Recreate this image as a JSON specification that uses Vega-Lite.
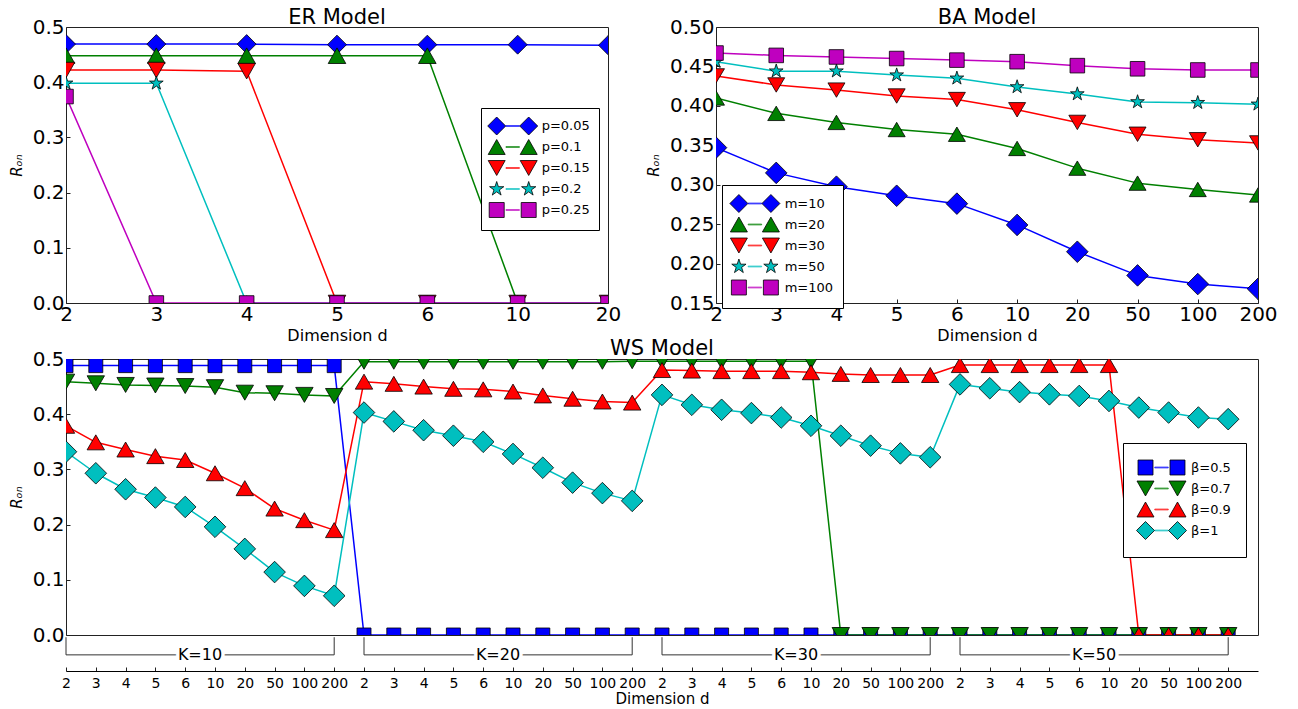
{
"$schema": "https://vega.github.io/schema/vega-lite/v6.json",
"padding": {"left": 8, "top": 6, "right": 5, "bottom": 3},
"datasets": {
"er": [
{"p":"p=0.05","d":2,"r":0.469},{"p":"p=0.05","d":3,"r":0.469},{"p":"p=0.05","d":4,"r":0.469},{"p":"p=0.05","d":5,"r":0.468},{"p":"p=0.05","d":6,"r":0.468},{"p":"p=0.05","d":10,"r":0.468},{"p":"p=0.05","d":20,"r":0.467},
{"p":"p=0.1","d":2,"r":0.448},{"p":"p=0.1","d":3,"r":0.448},{"p":"p=0.1","d":4,"r":0.448},{"p":"p=0.1","d":5,"r":0.448},{"p":"p=0.1","d":6,"r":0.448},{"p":"p=0.1","d":10,"r":0},{"p":"p=0.1","d":20,"r":0},
{"p":"p=0.15","d":2,"r":0.422},{"p":"p=0.15","d":3,"r":0.422},{"p":"p=0.15","d":4,"r":0.42},{"p":"p=0.15","d":5,"r":0},{"p":"p=0.15","d":6,"r":0},{"p":"p=0.15","d":10,"r":0},{"p":"p=0.15","d":20,"r":0},
{"p":"p=0.2","d":2,"r":0.398},{"p":"p=0.2","d":3,"r":0.398},{"p":"p=0.2","d":4,"r":0},{"p":"p=0.2","d":5,"r":0},{"p":"p=0.2","d":6,"r":0},{"p":"p=0.2","d":10,"r":0},{"p":"p=0.2","d":20,"r":0},
{"p":"p=0.25","d":2,"r":0.374},{"p":"p=0.25","d":3,"r":0},{"p":"p=0.25","d":4,"r":0},{"p":"p=0.25","d":5,"r":0},{"p":"p=0.25","d":6,"r":0},{"p":"p=0.25","d":10,"r":0},{"p":"p=0.25","d":20,"r":0}
],
"ba": [
{"m":"m=10","d":2,"r":0.347},{"m":"m=10","d":3,"r":0.315},{"m":"m=10","d":4,"r":0.2975},{"m":"m=10","d":5,"r":0.286},{"m":"m=10","d":6,"r":0.276},{"m":"m=10","d":10,"r":0.249},{"m":"m=10","d":20,"r":0.215},{"m":"m=10","d":50,"r":0.185},{"m":"m=10","d":100,"r":0.174},{"m":"m=10","d":200,"r":0.168},
{"m":"m=20","d":2,"r":0.41},{"m":"m=20","d":3,"r":0.3905},{"m":"m=20","d":4,"r":0.379},{"m":"m=20","d":5,"r":0.37},{"m":"m=20","d":6,"r":0.364},{"m":"m=20","d":10,"r":0.346},{"m":"m=20","d":20,"r":0.321},{"m":"m=20","d":50,"r":0.302},{"m":"m=20","d":100,"r":0.294},{"m":"m=20","d":200,"r":0.287},
{"m":"m=30","d":2,"r":0.438},{"m":"m=30","d":3,"r":0.4265},{"m":"m=30","d":4,"r":0.42},{"m":"m=30","d":5,"r":0.4125},{"m":"m=30","d":6,"r":0.408},{"m":"m=30","d":10,"r":0.395},{"m":"m=30","d":20,"r":0.379},{"m":"m=30","d":50,"r":0.364},{"m":"m=30","d":100,"r":0.357},{"m":"m=30","d":200,"r":0.353},
{"m":"m=50","d":2,"r":0.456},{"m":"m=50","d":3,"r":0.444},{"m":"m=50","d":4,"r":0.444},{"m":"m=50","d":5,"r":0.439},{"m":"m=50","d":6,"r":0.435},{"m":"m=50","d":10,"r":0.424},{"m":"m=50","d":20,"r":0.415},{"m":"m=50","d":50,"r":0.405},{"m":"m=50","d":100,"r":0.404},{"m":"m=50","d":200,"r":0.402},
{"m":"m=100","d":2,"r":0.467},{"m":"m=100","d":3,"r":0.464},{"m":"m=100","d":4,"r":0.462},{"m":"m=100","d":5,"r":0.46},{"m":"m=100","d":6,"r":0.458},{"m":"m=100","d":10,"r":0.456},{"m":"m=100","d":20,"r":0.451},{"m":"m=100","d":50,"r":0.447},{"m":"m=100","d":100,"r":0.4455},{"m":"m=100","d":200,"r":0.4455}
],
"ws": [
{"beta":"β=0.5","kd":"10|2","r":0.488},{"beta":"β=0.5","kd":"10|3","r":0.488},{"beta":"β=0.5","kd":"10|4","r":0.488},{"beta":"β=0.5","kd":"10|5","r":0.488},{"beta":"β=0.5","kd":"10|6","r":0.488},{"beta":"β=0.5","kd":"10|10","r":0.488},{"beta":"β=0.5","kd":"10|20","r":0.488},{"beta":"β=0.5","kd":"10|50","r":0.488},{"beta":"β=0.5","kd":"10|100","r":0.488},{"beta":"β=0.5","kd":"10|200","r":0.488},
{"beta":"β=0.5","kd":"20|2","r":0},{"beta":"β=0.5","kd":"20|3","r":0},{"beta":"β=0.5","kd":"20|4","r":0},{"beta":"β=0.5","kd":"20|5","r":0},{"beta":"β=0.5","kd":"20|6","r":0},{"beta":"β=0.5","kd":"20|10","r":0},{"beta":"β=0.5","kd":"20|20","r":0},{"beta":"β=0.5","kd":"20|50","r":0},{"beta":"β=0.5","kd":"20|100","r":0},{"beta":"β=0.5","kd":"20|200","r":0},
{"beta":"β=0.5","kd":"30|2","r":0},{"beta":"β=0.5","kd":"30|3","r":0},{"beta":"β=0.5","kd":"30|4","r":0},{"beta":"β=0.5","kd":"30|5","r":0},{"beta":"β=0.5","kd":"30|6","r":0},{"beta":"β=0.5","kd":"30|10","r":0},{"beta":"β=0.5","kd":"30|20","r":0},{"beta":"β=0.5","kd":"30|50","r":0},{"beta":"β=0.5","kd":"30|100","r":0},{"beta":"β=0.5","kd":"30|200","r":0},
{"beta":"β=0.5","kd":"50|2","r":0},{"beta":"β=0.5","kd":"50|3","r":0},{"beta":"β=0.5","kd":"50|4","r":0},{"beta":"β=0.5","kd":"50|5","r":0},{"beta":"β=0.5","kd":"50|6","r":0},{"beta":"β=0.5","kd":"50|10","r":0},{"beta":"β=0.5","kd":"50|20","r":0},{"beta":"β=0.5","kd":"50|50","r":0},{"beta":"β=0.5","kd":"50|100","r":0},{"beta":"β=0.5","kd":"50|200","r":0},
{"beta":"β=0.7","kd":"10|2","r":0.459},{"beta":"β=0.7","kd":"10|3","r":0.456},{"beta":"β=0.7","kd":"10|4","r":0.453},{"beta":"β=0.7","kd":"10|5","r":0.452},{"beta":"β=0.7","kd":"10|6","r":0.451},{"beta":"β=0.7","kd":"10|10","r":0.449},{"beta":"β=0.7","kd":"10|20","r":0.439},{"beta":"β=0.7","kd":"10|50","r":0.438},{"beta":"β=0.7","kd":"10|100","r":0.435},{"beta":"β=0.7","kd":"10|200","r":0.433},
{"beta":"β=0.7","kd":"20|2","r":0.495},{"beta":"β=0.7","kd":"20|3","r":0.495},{"beta":"β=0.7","kd":"20|4","r":0.495},{"beta":"β=0.7","kd":"20|5","r":0.495},{"beta":"β=0.7","kd":"20|6","r":0.495},{"beta":"β=0.7","kd":"20|10","r":0.495},{"beta":"β=0.7","kd":"20|20","r":0.495},{"beta":"β=0.7","kd":"20|50","r":0.495},{"beta":"β=0.7","kd":"20|100","r":0.495},{"beta":"β=0.7","kd":"20|200","r":0.496},
{"beta":"β=0.7","kd":"30|2","r":0.496},{"beta":"β=0.7","kd":"30|3","r":0.496},{"beta":"β=0.7","kd":"30|4","r":0.496},{"beta":"β=0.7","kd":"30|5","r":0.496},{"beta":"β=0.7","kd":"30|6","r":0.496},{"beta":"β=0.7","kd":"30|10","r":0.496},{"beta":"β=0.7","kd":"30|20","r":0},{"beta":"β=0.7","kd":"30|50","r":0},{"beta":"β=0.7","kd":"30|100","r":0},{"beta":"β=0.7","kd":"30|200","r":0},
{"beta":"β=0.7","kd":"50|2","r":0},{"beta":"β=0.7","kd":"50|3","r":0},{"beta":"β=0.7","kd":"50|4","r":0},{"beta":"β=0.7","kd":"50|5","r":0},{"beta":"β=0.7","kd":"50|6","r":0},{"beta":"β=0.7","kd":"50|10","r":0},{"beta":"β=0.7","kd":"50|20","r":0},{"beta":"β=0.7","kd":"50|50","r":0},{"beta":"β=0.7","kd":"50|100","r":0},{"beta":"β=0.7","kd":"50|200","r":0},
{"beta":"β=0.9","kd":"10|2","r":0.379},{"beta":"β=0.9","kd":"10|3","r":0.349},{"beta":"β=0.9","kd":"10|4","r":0.336},{"beta":"β=0.9","kd":"10|5","r":0.324},{"beta":"β=0.9","kd":"10|6","r":0.317},{"beta":"β=0.9","kd":"10|10","r":0.293},{"beta":"β=0.9","kd":"10|20","r":0.266},{"beta":"β=0.9","kd":"10|50","r":0.229},{"beta":"β=0.9","kd":"10|100","r":0.208},{"beta":"β=0.9","kd":"10|200","r":0.19},
{"beta":"β=0.9","kd":"20|2","r":0.459},{"beta":"β=0.9","kd":"20|3","r":0.455},{"beta":"β=0.9","kd":"20|4","r":0.45},{"beta":"β=0.9","kd":"20|5","r":0.446},{"beta":"β=0.9","kd":"20|6","r":0.445},{"beta":"β=0.9","kd":"20|10","r":0.441},{"beta":"β=0.9","kd":"20|20","r":0.434},{"beta":"β=0.9","kd":"20|50","r":0.428},{"beta":"β=0.9","kd":"20|100","r":0.423},{"beta":"β=0.9","kd":"20|200","r":0.421},
{"beta":"β=0.9","kd":"30|2","r":0.48},{"beta":"β=0.9","kd":"30|3","r":0.479},{"beta":"β=0.9","kd":"30|4","r":0.478},{"beta":"β=0.9","kd":"30|5","r":0.478},{"beta":"β=0.9","kd":"30|6","r":0.478},{"beta":"β=0.9","kd":"30|10","r":0.476},{"beta":"β=0.9","kd":"30|20","r":0.473},{"beta":"β=0.9","kd":"30|50","r":0.471},{"beta":"β=0.9","kd":"30|100","r":0.471},{"beta":"β=0.9","kd":"30|200","r":0.471},
{"beta":"β=0.9","kd":"50|2","r":0.489},{"beta":"β=0.9","kd":"50|3","r":0.489},{"beta":"β=0.9","kd":"50|4","r":0.489},{"beta":"β=0.9","kd":"50|5","r":0.489},{"beta":"β=0.9","kd":"50|6","r":0.489},{"beta":"β=0.9","kd":"50|10","r":0.489},{"beta":"β=0.9","kd":"50|20","r":0},{"beta":"β=0.9","kd":"50|50","r":0},{"beta":"β=0.9","kd":"50|100","r":0},{"beta":"β=0.9","kd":"50|200","r":0},
{"beta":"β=1","kd":"10|2","r":0.332},{"beta":"β=1","kd":"10|3","r":0.293},{"beta":"β=1","kd":"10|4","r":0.264},{"beta":"β=1","kd":"10|5","r":0.249},{"beta":"β=1","kd":"10|6","r":0.232},{"beta":"β=1","kd":"10|10","r":0.196},{"beta":"β=1","kd":"10|20","r":0.156},{"beta":"β=1","kd":"10|50","r":0.114},{"beta":"β=1","kd":"10|100","r":0.089},{"beta":"β=1","kd":"10|200","r":0.071},
{"beta":"β=1","kd":"20|2","r":0.403},{"beta":"β=1","kd":"20|3","r":0.387},{"beta":"β=1","kd":"20|4","r":0.371},{"beta":"β=1","kd":"20|5","r":0.361},{"beta":"β=1","kd":"20|6","r":0.35},{"beta":"β=1","kd":"20|10","r":0.328},{"beta":"β=1","kd":"20|20","r":0.303},{"beta":"β=1","kd":"20|50","r":0.276},{"beta":"β=1","kd":"20|100","r":0.257},{"beta":"β=1","kd":"20|200","r":0.243},
{"beta":"β=1","kd":"30|2","r":0.435},{"beta":"β=1","kd":"30|3","r":0.417},{"beta":"β=1","kd":"30|4","r":0.408},{"beta":"β=1","kd":"30|5","r":0.402},{"beta":"β=1","kd":"30|6","r":0.394},{"beta":"β=1","kd":"30|10","r":0.379},{"beta":"β=1","kd":"30|20","r":0.361},{"beta":"β=1","kd":"30|50","r":0.343},{"beta":"β=1","kd":"30|100","r":0.329},{"beta":"β=1","kd":"30|200","r":0.322},
{"beta":"β=1","kd":"50|2","r":0.454},{"beta":"β=1","kd":"50|3","r":0.447},{"beta":"β=1","kd":"50|4","r":0.44},{"beta":"β=1","kd":"50|5","r":0.436},{"beta":"β=1","kd":"50|6","r":0.433},{"beta":"β=1","kd":"50|10","r":0.424},{"beta":"β=1","kd":"50|20","r":0.412},{"beta":"β=1","kd":"50|50","r":0.403},{"beta":"β=1","kd":"50|100","r":0.394},{"beta":"β=1","kd":"50|200","r":0.391}
],
"br": [
{"K":"K=10","start":"10|2","end":"10|200"},
{"K":"K=20","start":"20|2","end":"20|200"},
{"K":"K=30","start":"30|2","end":"30|200"},
{"K":"K=50","start":"50|2","end":"50|200"}
]
},
"vconcat": [
{
"hconcat": [
{
"width": 542, "height": 276,
"title": {"text": "ER Model", "offset": -11},
"data": {"name": "er"},
"layer": [
{
"mark": {"type": "line", "clip": true, "strokeWidth": 1.5, "strokeJoin": "round"},
"encoding": {
"x": {"field": "d", "type": "ordinal", "scale": {"type": "point", "padding": 0}, "axis": {"title": "Dimension d"}},
"y": {"field": "r", "type": "quantitative", "scale": {"domain": [0, 0.5], "nice": false}, "axis": {"title": "Rₒₙ", "values": [0, 0.1, 0.2, 0.3, 0.4, 0.5], "format": ".1f"}},
"color": {"field": "p", "type": "nominal", "scale": {"domain": ["p=0.05","p=0.1","p=0.15","p=0.2","p=0.25"], "range": ["#0000ff","#008000","#ff0000","#00bfbf","#bf00bf"]},
"legend": {"title": null, "orient": "none", "legendX": 415, "legendY": 81, "padding": 8.5, "symbolOffset": 13.7, "labelOffset": 19.5, "symbolType": "M0,-1M0,1M-0.75,-0.04L0.75,-0.04L0.75,0.04L-0.75,0.04Z", "symbolSize": 324, "symbolStrokeWidth": 0.8, "fillColor": "white", "strokeColor": "black", "labelOpacity": 0, "rowPadding": -5.2, "labelFontSize": 13}},
"order": {"value": null}
}
},
{
"mark": {"type": "point", "filled": true, "opacity": 1, "stroke": "black", "strokeWidth": 0.8, "strokeJoin": "round", "size": 324, "clip": true},
"encoding": {
"x": {"field": "d", "type": "ordinal", "scale": {"type": "point", "padding": 0}, "axis": {"title": "Dimension d"}},
"y": {"field": "r", "type": "quantitative", "scale": {"domain": [0, 0.5], "nice": false}, "axis": {"title": "Rₒₙ", "values": [0, 0.1, 0.2, 0.3, 0.4, 0.5], "format": ".1f"}},
"color": {"field": "p", "type": "nominal", "scale": {"domain": ["p=0.05","p=0.1","p=0.15","p=0.2","p=0.25"], "range": ["#0000ff","#008000","#ff0000","#00bfbf","#bf00bf"]},
"legend": {"title": null, "orient": "none", "legendX": 415, "legendY": 81, "padding": 8.5, "symbolOffset": 13.7, "labelOffset": 19.5, "symbolSize": 324, "symbolStrokeWidth": 0.8, "symbolStrokeColor": "black", "symbolOpacity": 1, "rowPadding": -5.2, "labelFontSize": 13,
"symbolType": {"expr": "['M0,-1M0,1M-1.778,-1L-0.778,0L-1.778,1L-2.778,0ZM1.778,-1L2.778,0L1.778,1L0.778,0Z','M0,-1M0,1M-1.778,-0.83L-0.833,0.83L-2.723,0.83ZM1.778,-0.83L2.723,0.83L0.833,0.83Z','M0,-1M0,1M-1.778,0.83L-0.833,-0.83L-2.723,-0.83ZM1.778,0.83L2.723,-0.83L0.833,-0.83Z','M0,-1M0,1M-1.778,-0.833L-1.591,-0.257L-0.986,-0.257L-1.476,0.098L-1.288,0.674L-1.778,0.318L-2.268,0.674L-2.08,0.098L-2.57,-0.257L-1.965,-0.257ZM1.778,-0.833L1.965,-0.257L2.57,-0.257L2.08,0.098L2.268,0.674L1.778,0.318L1.288,0.674L1.476,0.098L0.986,-0.257L1.591,-0.257Z','M0,-1M0,1M-2.611,-0.833L-0.944,-0.833L-0.944,0.833L-2.611,0.833ZM0.944,-0.833L2.611,-0.833L2.611,0.833L0.944,0.833Z'][datum.index]"}}},
"shape": {"field": "p", "type": "nominal", "scale": {"domain": ["p=0.05","p=0.1","p=0.15","p=0.2","p=0.25"], "range": ["M0,-1.056L1.056,0L0,1.056L-1.056,0Z","M0,-0.867L0.978,0.867L-0.978,0.867Z","M0,0.867L0.978,-0.867L-0.978,-0.867Z","M0,-0.8L0.18,-0.247L0.761,-0.247L0.29,0.094L0.47,0.647L0,0.306L-0.47,0.647L-0.29,0.094L-0.761,-0.247L-0.18,-0.247Z","M-0.811,-0.811L0.811,-0.811L0.811,0.811L-0.811,0.811Z"]}, "legend": null}
}
}
],
"resolve": {"legend": {"color": "independent"}}
},
{
"width": 542, "height": 276,
"title": {"text": "BA Model", "offset": -11},
"data": {"name": "ba"},
"layer": [
{
"mark": {"type": "line", "clip": true, "strokeWidth": 1.5, "strokeJoin": "round"},
"encoding": {
"x": {"field": "d", "type": "ordinal", "scale": {"type": "point", "padding": 0}, "axis": {"title": "Dimension d"}},
"y": {"field": "r", "type": "quantitative", "scale": {"domain": [0.15, 0.5], "nice": false, "zero": false}, "axis": {"title": "Rₒₙ", "values": [0.15, 0.2, 0.25, 0.3, 0.35, 0.4, 0.45, 0.5], "format": ".2f"}},
"color": {"field": "m", "type": "nominal", "scale": {"domain": ["m=10","m=20","m=30","m=50","m=100"], "range": ["#0000ff","#008000","#ff0000","#00bfbf","#bf00bf"]},
"legend": {"title": null, "orient": "none", "legendX": 6, "legendY": 158, "padding": 9, "symbolOffset": 14.4, "labelOffset": 20.3, "symbolType": "M0,-1M0,1M-0.75,-0.04L0.75,-0.04L0.75,0.04L-0.75,0.04Z", "symbolSize": 324, "symbolStrokeWidth": 0.8, "fillColor": "white", "strokeColor": "black", "labelOpacity": 0, "rowPadding": -5.2, "labelFontSize": 13}},
"order": {"value": null}
}
},
{
"mark": {"type": "point", "filled": true, "opacity": 1, "stroke": "black", "strokeWidth": 0.8, "strokeJoin": "round", "size": 324, "clip": true},
"encoding": {
"x": {"field": "d", "type": "ordinal", "scale": {"type": "point", "padding": 0}, "axis": {"title": "Dimension d"}},
"y": {"field": "r", "type": "quantitative", "scale": {"domain": [0.15, 0.5], "nice": false, "zero": false}, "axis": {"title": "Rₒₙ", "values": [0.15, 0.2, 0.25, 0.3, 0.35, 0.4, 0.45, 0.5], "format": ".2f"}},
"color": {"field": "m", "type": "nominal", "scale": {"domain": ["m=10","m=20","m=30","m=50","m=100"], "range": ["#0000ff","#008000","#ff0000","#00bfbf","#bf00bf"]},
"legend": {"title": null, "orient": "none", "legendX": 6, "legendY": 158, "padding": 9, "symbolOffset": 14.4, "labelOffset": 20.3, "symbolSize": 324, "symbolStrokeWidth": 0.8, "symbolStrokeColor": "black", "symbolOpacity": 1, "rowPadding": -5.2, "labelFontSize": 13,
"symbolType": {"expr": "['M0,-1M0,1M-1.778,-1L-0.778,0L-1.778,1L-2.778,0ZM1.778,-1L2.778,0L1.778,1L0.778,0Z','M0,-1M0,1M-1.778,-0.83L-0.833,0.83L-2.723,0.83ZM1.778,-0.83L2.723,0.83L0.833,0.83Z','M0,-1M0,1M-1.778,0.83L-0.833,-0.83L-2.723,-0.83ZM1.778,0.83L2.723,-0.83L0.833,-0.83Z','M0,-1M0,1M-1.778,-0.833L-1.591,-0.257L-0.986,-0.257L-1.476,0.098L-1.288,0.674L-1.778,0.318L-2.268,0.674L-2.08,0.098L-2.57,-0.257L-1.965,-0.257ZM1.778,-0.833L1.965,-0.257L2.57,-0.257L2.08,0.098L2.268,0.674L1.778,0.318L1.288,0.674L1.476,0.098L0.986,-0.257L1.591,-0.257Z','M0,-1M0,1M-2.611,-0.833L-0.944,-0.833L-0.944,0.833L-2.611,0.833ZM0.944,-0.833L2.611,-0.833L2.611,0.833L0.944,0.833Z'][datum.index]"}}},
"shape": {"field": "m", "type": "nominal", "scale": {"domain": ["m=10","m=20","m=30","m=50","m=100"], "range": ["M0,-1.2L1.2,0L0,1.2L-1.2,0Z","M0,-0.8L0.944,0.8L-0.944,0.8Z","M0,0.8L0.944,-0.8L-0.944,-0.8Z","M0,-0.8L0.18,-0.247L0.761,-0.247L0.29,0.094L0.47,0.647L0,0.306L-0.47,0.647L-0.29,0.094L-0.761,-0.247L-0.18,-0.247Z","M-0.811,-0.811L0.811,-0.811L0.811,0.811L-0.811,0.811Z"]}, "legend": null}
}
}
],
"resolve": {"legend": {"color": "independent"}}
}
],
"spacing": 108,
"bounds": "flush",
"resolve": {"scale": {"color": "independent", "shape": "independent"}}
},
{
"width": 1192, "height": 276,
"title": {"text": "WS Model", "offset": -10},
"layer": [
{
"data": {"name": "ws"},
"mark": {"type": "line", "clip": true, "strokeWidth": 1.5, "strokeJoin": "round"},
"encoding": {
"x": {"field": "kd", "type": "ordinal", "scale": {"type": "point", "padding": 0, "domain": ["10|2","10|3","10|4","10|5","10|6","10|10","10|20","10|50","10|100","10|200","20|2","20|3","20|4","20|5","20|6","20|10","20|20","20|50","20|100","20|200","30|2","30|3","30|4","30|5","30|6","30|10","30|20","30|50","30|100","30|200","50|2","50|3","50|4","50|5","50|6","50|10","50|20","50|50","50|100","50|200","end"]},
"axis": {"values": ["10|2","10|3","10|4","10|5","10|6","10|10","10|20","10|50","10|100","10|200","20|2","20|3","20|4","20|5","20|6","20|10","20|20","20|50","20|100","20|200","30|2","30|3","30|4","30|5","30|6","30|10","30|20","30|50","30|100","30|200","50|2","50|3","50|4","50|5","50|6","50|10","50|20","50|50","50|100","50|200"], "labelExpr": "split(datum.label, '|')[1]", "offset": 36, "domain": true, "domainColor": "black", "tickSize": -4, "labelFontSize": 14, "labelPadding": 9, "title": "Dimension d", "titleFontSize": 15, "titlePadding": 1}},
"y": {"field": "r", "type": "quantitative", "scale": {"domain": [0, 0.5], "nice": false}, "axis": {"title": "Rₒₙ", "values": [0, 0.1, 0.2, 0.3, 0.4, 0.5], "format": ".1f"}},
"color": {"field": "beta", "type": "nominal", "scale": {"domain": ["β=0.5","β=0.7","β=0.9","β=1"], "range": ["#0000ff","#008000","#ff0000","#00bfbf"]},
"legend": {"title": null, "orient": "none", "legendX": 1057, "legendY": 84, "padding": 15, "symbolOffset": 14, "labelOffset": 20, "symbolType": "M0,-1M0,1M-0.75,-0.04L0.75,-0.04L0.75,0.04L-0.75,0.04Z", "symbolSize": 324, "symbolStrokeWidth": 0.8, "fillColor": "white", "strokeColor": "black", "labelOpacity": 0, "rowPadding": -5.2, "labelFontSize": 13}},
"order": {"value": null}
}
},
{
"data": {"name": "ws"},
"mark": {"type": "point", "filled": true, "opacity": 1, "stroke": "black", "strokeWidth": 0.8, "strokeJoin": "round", "size": 324, "clip": true},
"encoding": {
"x": {"field": "kd", "type": "ordinal", "scale": {"type": "point", "padding": 0, "domain": ["10|2","10|3","10|4","10|5","10|6","10|10","10|20","10|50","10|100","10|200","20|2","20|3","20|4","20|5","20|6","20|10","20|20","20|50","20|100","20|200","30|2","30|3","30|4","30|5","30|6","30|10","30|20","30|50","30|100","30|200","50|2","50|3","50|4","50|5","50|6","50|10","50|20","50|50","50|100","50|200","end"]},
"axis": {"values": ["10|2","10|3","10|4","10|5","10|6","10|10","10|20","10|50","10|100","10|200","20|2","20|3","20|4","20|5","20|6","20|10","20|20","20|50","20|100","20|200","30|2","30|3","30|4","30|5","30|6","30|10","30|20","30|50","30|100","30|200","50|2","50|3","50|4","50|5","50|6","50|10","50|20","50|50","50|100","50|200"], "labelExpr": "split(datum.label, '|')[1]", "offset": 36, "domain": true, "domainColor": "black", "tickSize": -4, "labelFontSize": 14, "labelPadding": 9, "title": "Dimension d", "titleFontSize": 15, "titlePadding": 1}},
"y": {"field": "r", "type": "quantitative", "scale": {"domain": [0, 0.5], "nice": false}, "axis": {"title": "Rₒₙ", "values": [0, 0.1, 0.2, 0.3, 0.4, 0.5], "format": ".1f"}},
"color": {"field": "beta", "type": "nominal", "scale": {"domain": ["β=0.5","β=0.7","β=0.9","β=1"], "range": ["#0000ff","#008000","#ff0000","#00bfbf"]},
"legend": {"title": null, "orient": "none", "legendX": 1057, "legendY": 84, "padding": 15, "symbolOffset": 14, "labelOffset": 20, "symbolSize": 324, "symbolStrokeWidth": 0.8, "symbolStrokeColor": "black", "symbolOpacity": 1, "rowPadding": -5.2, "labelFontSize": 13,
"symbolType": {"expr": "['M0,-1M0,1M-2.611,-0.833L-0.944,-0.833L-0.944,0.833L-2.611,0.833ZM0.944,-0.833L2.611,-0.833L2.611,0.833L0.944,0.833Z','M0,-1M0,1M-1.778,0.83L-0.833,-0.83L-2.723,-0.83ZM1.778,0.83L2.723,-0.83L0.833,-0.83Z','M0,-1M0,1M-1.778,-0.83L-0.833,0.83L-2.723,0.83ZM1.778,-0.83L2.723,0.83L0.833,0.83Z','M0,-1M0,1M-1.778,-1L-0.778,0L-1.778,1L-2.778,0ZM1.778,-1L2.778,0L1.778,1L0.778,0Z'][datum.index]"}}},
"shape": {"field": "beta", "type": "nominal", "scale": {"domain": ["β=0.5","β=0.7","β=0.9","β=1"], "range": ["M-0.778,-0.778L0.778,-0.778L0.778,0.778L-0.778,0.778Z","M0,0.833L0.967,-0.833L-0.967,-0.833Z","M0,-0.833L0.967,0.833L-0.967,0.833Z","M0,-1.2L1.2,0L0,1.2L-1.2,0Z"]}, "legend": null}
}
},
{
"data": {"name": "br"},
"mark": {"type": "rule", "color": "#333", "strokeWidth": 1},
"encoding": {
"x": {"field": "start", "type": "ordinal", "scale": {"type": "point", "padding": 0, "domain": ["10|2","10|3","10|4","10|5","10|6","10|10","10|20","10|50","10|100","10|200","20|2","20|3","20|4","20|5","20|6","20|10","20|20","20|50","20|100","20|200","30|2","30|3","30|4","30|5","30|6","30|10","30|20","30|50","30|100","30|200","50|2","50|3","50|4","50|5","50|6","50|10","50|20","50|50","50|100","50|200","end"]},
"axis": {"values": ["10|2","10|3","10|4","10|5","10|6","10|10","10|20","10|50","10|100","10|200","20|2","20|3","20|4","20|5","20|6","20|10","20|20","20|50","20|100","20|200","30|2","30|3","30|4","30|5","30|6","30|10","30|20","30|50","30|100","30|200","50|2","50|3","50|4","50|5","50|6","50|10","50|20","50|50","50|100","50|200"], "labelExpr": "split(datum.label, '|')[1]", "offset": 36, "domain": true, "domainColor": "black", "tickSize": -4, "labelFontSize": 14, "labelPadding": 9, "title": "Dimension d", "titleFontSize": 15, "titlePadding": 1}},
"y": {"datum": -0.004, "type": "quantitative", "scale": {"domain": [0, 0.5], "nice": false}, "axis": {"title": "Rₒₙ", "values": [0, 0.1, 0.2, 0.3, 0.4, 0.5], "format": ".1f"}},
"y2": {"datum": -0.036}
}
},
{
"data": {"name": "br"},
"mark": {"type": "rule", "color": "#333", "strokeWidth": 1},
"encoding": {
"x": {"field": "end", "type": "ordinal", "scale": {"type": "point", "padding": 0, "domain": ["10|2","10|3","10|4","10|5","10|6","10|10","10|20","10|50","10|100","10|200","20|2","20|3","20|4","20|5","20|6","20|10","20|20","20|50","20|100","20|200","30|2","30|3","30|4","30|5","30|6","30|10","30|20","30|50","30|100","30|200","50|2","50|3","50|4","50|5","50|6","50|10","50|20","50|50","50|100","50|200","end"]},
"axis": {"values": ["10|2","10|3","10|4","10|5","10|6","10|10","10|20","10|50","10|100","10|200","20|2","20|3","20|4","20|5","20|6","20|10","20|20","20|50","20|100","20|200","30|2","30|3","30|4","30|5","30|6","30|10","30|20","30|50","30|100","30|200","50|2","50|3","50|4","50|5","50|6","50|10","50|20","50|50","50|100","50|200"], "labelExpr": "split(datum.label, '|')[1]", "offset": 36, "domain": true, "domainColor": "black", "tickSize": -4, "labelFontSize": 14, "labelPadding": 9, "title": "Dimension d", "titleFontSize": 15, "titlePadding": 1}},
"y": {"datum": -0.004, "type": "quantitative", "scale": {"domain": [0, 0.5], "nice": false}, "axis": {"title": "Rₒₙ", "values": [0, 0.1, 0.2, 0.3, 0.4, 0.5], "format": ".1f"}},
"y2": {"datum": -0.036}
}
},
{
"data": {"name": "br"},
"mark": {"type": "rule", "color": "#333", "strokeWidth": 1},
"encoding": {
"x": {"field": "start", "type": "ordinal", "scale": {"type": "point", "padding": 0, "domain": ["10|2","10|3","10|4","10|5","10|6","10|10","10|20","10|50","10|100","10|200","20|2","20|3","20|4","20|5","20|6","20|10","20|20","20|50","20|100","20|200","30|2","30|3","30|4","30|5","30|6","30|10","30|20","30|50","30|100","30|200","50|2","50|3","50|4","50|5","50|6","50|10","50|20","50|50","50|100","50|200","end"]},
"axis": {"values": ["10|2","10|3","10|4","10|5","10|6","10|10","10|20","10|50","10|100","10|200","20|2","20|3","20|4","20|5","20|6","20|10","20|20","20|50","20|100","20|200","30|2","30|3","30|4","30|5","30|6","30|10","30|20","30|50","30|100","30|200","50|2","50|3","50|4","50|5","50|6","50|10","50|20","50|50","50|100","50|200"], "labelExpr": "split(datum.label, '|')[1]", "offset": 36, "domain": true, "domainColor": "black", "tickSize": -4, "labelFontSize": 14, "labelPadding": 9, "title": "Dimension d", "titleFontSize": 15, "titlePadding": 1}},
"x2": {"field": "end"},
"y": {"datum": -0.036, "type": "quantitative", "scale": {"domain": [0, 0.5], "nice": false}, "axis": {"title": "Rₒₙ", "values": [0, 0.1, 0.2, 0.3, 0.4, 0.5], "format": ".1f"}}
}
},
{
"data": {"name": "br"},
"mark": {"type": "text", "dx": 134, "fontSize": 16, "baseline": "middle", "stroke": "white", "strokeWidth": 7, "color": "white"},
"encoding": {
"x": {"field": "start", "type": "ordinal", "scale": {"type": "point", "padding": 0, "domain": ["10|2","10|3","10|4","10|5","10|6","10|10","10|20","10|50","10|100","10|200","20|2","20|3","20|4","20|5","20|6","20|10","20|20","20|50","20|100","20|200","30|2","30|3","30|4","30|5","30|6","30|10","30|20","30|50","30|100","30|200","50|2","50|3","50|4","50|5","50|6","50|10","50|20","50|50","50|100","50|200","end"]},
"axis": {"values": ["10|2","10|3","10|4","10|5","10|6","10|10","10|20","10|50","10|100","10|200","20|2","20|3","20|4","20|5","20|6","20|10","20|20","20|50","20|100","20|200","30|2","30|3","30|4","30|5","30|6","30|10","30|20","30|50","30|100","30|200","50|2","50|3","50|4","50|5","50|6","50|10","50|20","50|50","50|100","50|200"], "labelExpr": "split(datum.label, '|')[1]", "offset": 36, "domain": true, "domainColor": "black", "tickSize": -4, "labelFontSize": 14, "labelPadding": 9, "title": "Dimension d", "titleFontSize": 15, "titlePadding": 1}},
"y": {"datum": -0.036, "type": "quantitative", "scale": {"domain": [0, 0.5], "nice": false}, "axis": {"title": "Rₒₙ", "values": [0, 0.1, 0.2, 0.3, 0.4, 0.5], "format": ".1f"}},
"text": {"field": "K"}
}
},
{
"data": {"name": "br"},
"mark": {"type": "text", "dx": 134, "fontSize": 16, "baseline": "middle", "color": "black"},
"encoding": {
"x": {"field": "start", "type": "ordinal", "scale": {"type": "point", "padding": 0, "domain": ["10|2","10|3","10|4","10|5","10|6","10|10","10|20","10|50","10|100","10|200","20|2","20|3","20|4","20|5","20|6","20|10","20|20","20|50","20|100","20|200","30|2","30|3","30|4","30|5","30|6","30|10","30|20","30|50","30|100","30|200","50|2","50|3","50|4","50|5","50|6","50|10","50|20","50|50","50|100","50|200","end"]},
"axis": {"values": ["10|2","10|3","10|4","10|5","10|6","10|10","10|20","10|50","10|100","10|200","20|2","20|3","20|4","20|5","20|6","20|10","20|20","20|50","20|100","20|200","30|2","30|3","30|4","30|5","30|6","30|10","30|20","30|50","30|100","30|200","50|2","50|3","50|4","50|5","50|6","50|10","50|20","50|50","50|100","50|200"], "labelExpr": "split(datum.label, '|')[1]", "offset": 36, "domain": true, "domainColor": "black", "tickSize": -4, "labelFontSize": 14, "labelPadding": 9, "title": "Dimension d", "titleFontSize": 15, "titlePadding": 1}},
"y": {"datum": -0.036, "type": "quantitative", "scale": {"domain": [0, 0.5], "nice": false}, "axis": {"title": "Rₒₙ", "values": [0, 0.1, 0.2, 0.3, 0.4, 0.5], "format": ".1f"}},
"text": {"field": "K"}
}
}
],
"resolve": {"legend": {"color": "independent"}}
}
],
"spacing": -7,
"resolve": {"scale": {"color": "independent", "shape": "independent"}},
"config": {
"font": "DejaVu Sans",
"view": {"stroke": "#222", "strokeWidth": 1},
"axis": {"grid": false, "domain": false, "tickSize": -4, "tickColor": "#222", "tickWidth": 1, "labelFont": "DejaVu Sans", "labelFontSize": 20, "labelColor": "black", "labelFlush": false, "labelBound": false, "labelOverlap": false, "titleFont": "DejaVu Sans", "titleFontWeight": "normal", "titleColor": "black"},
"axisX": {"labelPadding": 5, "titleFontSize": 16, "titlePadding": 3, "labelAngle": 0},
"axisY": {"labelPadding": 6, "titleFontSize": 15, "titlePadding": 8, "titleFontStyle": "italic"},
"title": {"font": "DejaVu Sans", "fontSize": 21, "fontWeight": "normal", "color": "black"},
"legend": {"labelFont": "DejaVu Sans", "labelFontSize": 13, "labelColor": "black", "strokeWidth": 1}
}
}
